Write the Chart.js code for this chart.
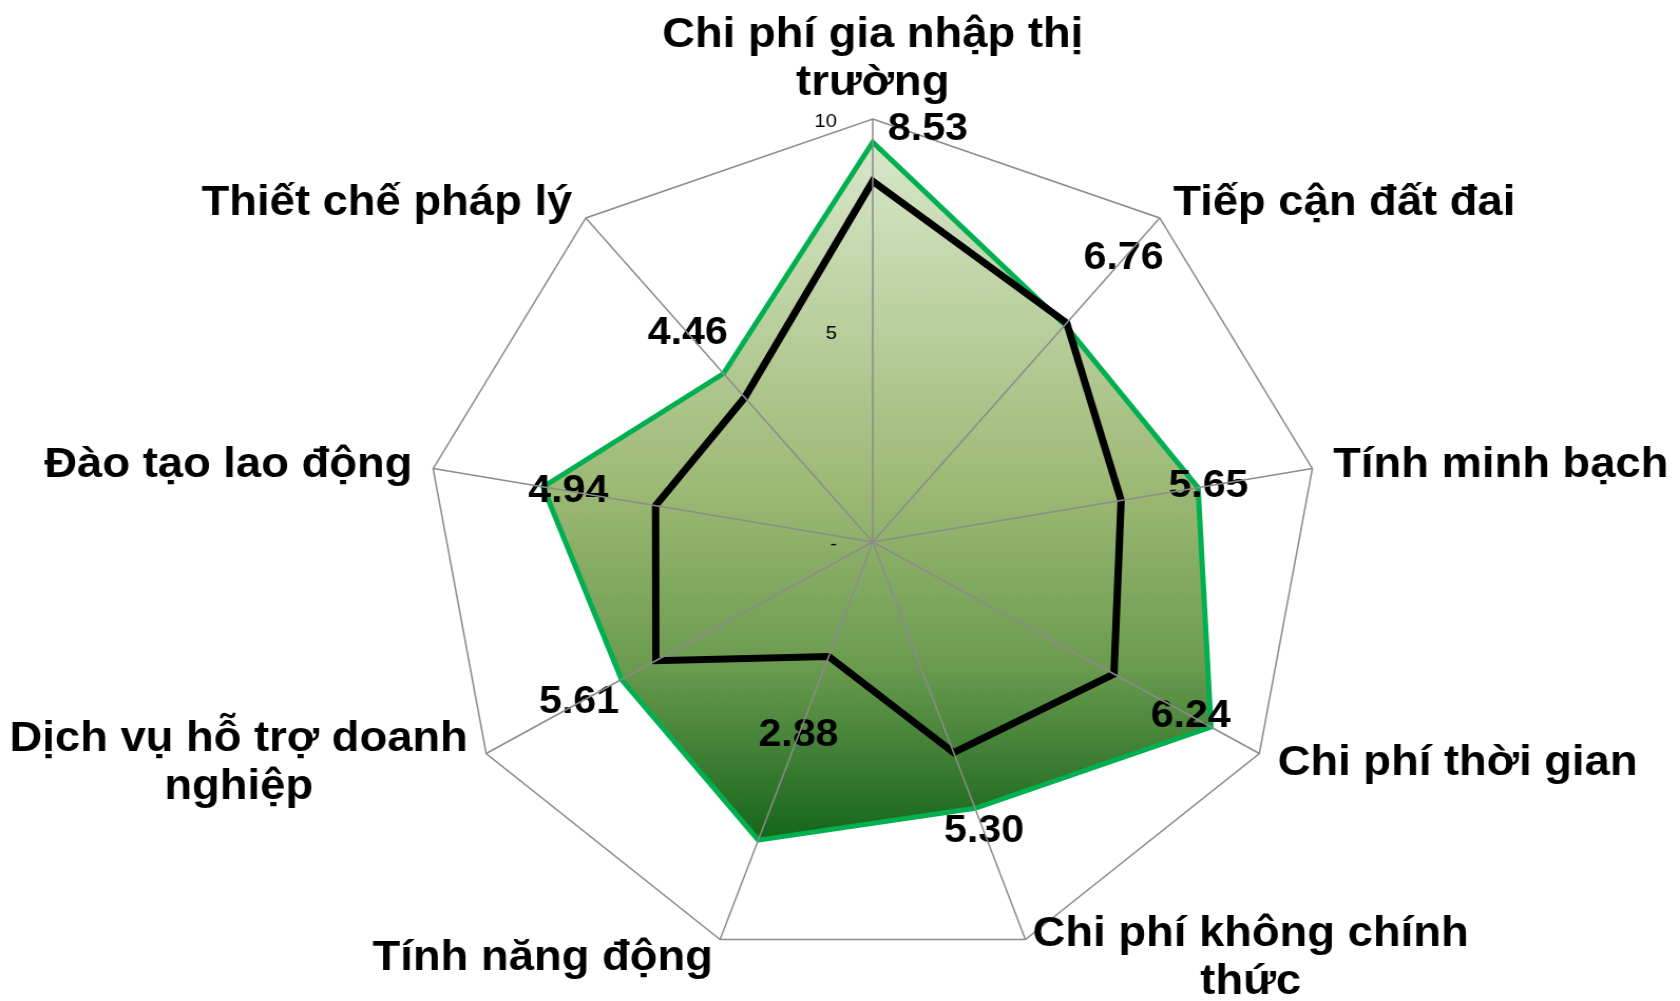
<!DOCTYPE html>
<html><head><meta charset="utf-8">
<script src="https://cdn.jsdelivr.net/npm/chart.js@4.4.1/dist/chart.umd.min.js"></script>
<style>
html,body{margin:0;padding:0;background:#fff;overflow:hidden;}
#wrap{width:1592px;height:1001px;transform:scaleX(1.0553);transform-origin:0 0;}
</style></head><body>
<div id="wrap"><canvas id="c" width="1592" height="1001"></canvas></div>
<script>
const categories = [
  ["Chi phí gia nhập thị", "trường"],
  "Tiếp cận đất đai",
  "Tính minh bạch",
  "Chi phí thời gian",
  ["Chi phí không chính", "thức"],
  "Tính năng động",
  ["Dịch vụ hỗ trợ doanh", "nghiệp"],
  "Đào tạo lao động",
  "Thiết chế pháp lý"
];
const provinceValues = [8.53, 6.76, 5.65, 6.24, 5.30, 2.88, 5.61, 4.94, 4.46];
const bestValues = [9.45, 6.70, 7.40, 8.75, 6.70, 7.50, 6.50, 7.50, 5.20];
const tickValues = [0, 5, 10];
const tickLabels = ['-', '5', '10'];

const LABEL_FONT = '"Liberation Sans", Arial, sans-serif';

function fillGradient(c) {
  const ch = c.chart; const r = ch.scales.r;
  if (!r || !ch.chartArea) return '#9cb974';
  const vals = ch.data.datasets[0].data;
  const ys = vals.map((v, i) => r.getPointPositionForValue(i, v).y);
  const g = ch.ctx.createLinearGradient(0, Math.min(...ys), 0, Math.max(...ys));
  g.addColorStop(0, '#d9e7ca');
  g.addColorStop(0.5, '#9cb974');
  g.addColorStop(0.75, '#6b9b4f');
  g.addColorStop(1, '#15651a');
  return g;
}

const overlay = {
  id: 'overlay',
  afterDraw(chart) {
    const r = chart.scales.r; const ctx = chart.ctx;
    const n = chart.data.labels.length;
    ctx.save();
    // category labels
    ctx.fillStyle = '#000';
    ctx.font = 'bold 43px ' + LABEL_FONT;
    ctx.textBaseline = 'middle';
    ctx.textAlign = 'center';
    const lh = 48;
    for (let i = 0; i < n; i++) {
      const lab = chart.data.labels[i];
      const lines = Array.isArray(lab) ? lab : [lab];
      const deg = r.getIndexAngle(i) * 180 / Math.PI;
      const isTop = deg < 5 || deg > 355;
      const p = r.getPointPosition(i, r.drawingArea + (isTop ? 12 : 20));
      const bw = Math.max(...lines.map(l => ctx.measureText(l).width));
      const bh = lines.length * lh;
      let cx, top;
      if (isTop) { cx = p.x; top = p.y - bh; }
      else if (Math.abs(deg - 180) < 5) { cx = p.x; top = p.y; }
      else { cx = deg < 180 ? p.x + bw / 2 : p.x - bw / 2; top = p.y - bh / 2; }
      lines.forEach((l, k) => ctx.fillText(l, cx, top + lh * (k + 0.5)));
    }
    // value labels for the black series
    const meta = chart.getDatasetMeta(1);
    const vals = chart.data.datasets[1].data;
    ctx.font = 'bold 39px ' + LABEL_FONT;
    meta.data.forEach((pt, i) => {
      let a = r.getIndexAngle(i);
      let dist = 84;
      if (a < 0.05 || a > 2 * Math.PI - 0.05) { a += Math.PI / 4; dist = 74; }
      const x = pt.x + Math.sin(a) * dist, y = pt.y - Math.cos(a) * dist;
      ctx.fillText(Number(vals[i]).toFixed(2), x, y);
    });
    // spokes on top
    ctx.strokeStyle = '#8c8c8c'; ctx.lineWidth = 1.5;
    ctx.beginPath();
    for (let i = 0; i < n; i++) {
      const p = r.getPointPosition(i, r.drawingArea);
      ctx.moveTo(r.xCenter, r.yCenter); ctx.lineTo(p.x, p.y);
    }
    ctx.stroke();
    // tick labels
    ctx.font = '19px ' + LABEL_FONT;
    ctx.textAlign = 'right';
    ctx.fillStyle = '#000';
    r.ticks.forEach(t => {
      const idx = tickValues.indexOf(t.value);
      if (idx < 0) return;
      const d = r.getDistanceFromCenterForValue(t.value);
      ctx.fillText(tickLabels[idx], r.xCenter - 34, r.yCenter - d + 3);
    });
    ctx.restore();
  }
};

new Chart(document.getElementById('c'), {
  type: 'radar',
  data: {
    labels: categories,
    datasets: [
      { label: 'Cao nhất', data: bestValues, borderColor: '#00b050', borderWidth: 5,
        backgroundColor: fillGradient, fill: true, pointRadius: 0, order: 2,
        borderJoinStyle: 'miter', tension: 0 },
      { label: 'Tỉnh', data: provinceValues, borderColor: '#000000', borderWidth: 7,
        backgroundColor: 'transparent', fill: false, pointRadius: 0, order: 1,
        borderJoinStyle: 'miter', tension: 0 }
    ]
  },
  options: {
    responsive: false,
    animation: false,
    devicePixelRatio: 1,
    layout: { padding: { left: 404, right: 342, top: 119, bottom: 36 } },
    plugins: { legend: { display: false }, tooltip: { enabled: false } },
    scales: {
      r: {
        min: 0, max: 10,
        ticks: { display: false, stepSize: 5 },
        pointLabels: { display: false },
        grid: { color: '#8c8c8c', lineWidth: 1.5 },
        angleLines: { display: false }
      }
    }
  },
  plugins: [overlay]
});
</script>
</body></html>
